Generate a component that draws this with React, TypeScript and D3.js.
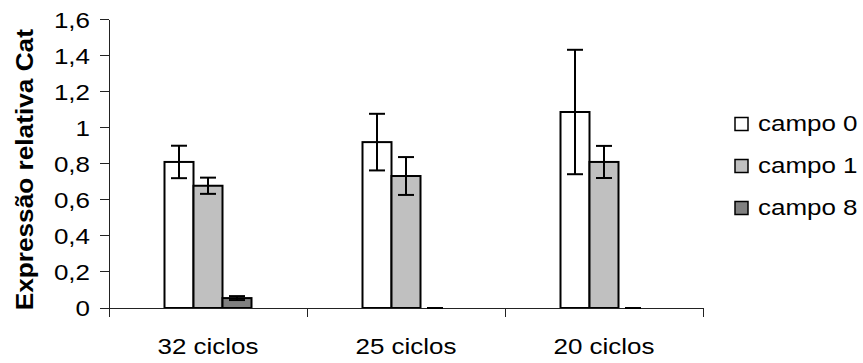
import React from "react";
import * as d3 from "d3";

// Relative Cat expression per cycle count and field
const categories = ["32 ciclos", "25 ciclos", "20 ciclos"];
const seriesNames = ["campo 0", "campo 1", "campo 8"];
const campo0 = [0.81, 0.92, 1.087];
const campo1 = [0.678, 0.732, 0.81];
const campo8 = [0.055, 0, 0];
const campo0Err = [0.09, 0.157, 0.345];
const campo1Err = [0.045, 0.105, 0.089];
const campo8Err = [0.011, 0, 0];
const yTicks = [0, 0.2, 0.4, 0.6, 0.8, 1, 1.2, 1.4, 1.6];
const yTitle = "Expressão relativa Cat";

const seriesValues = [campo0, campo1, campo8];
const seriesErrors = [campo0Err, campo1Err, campo8Err];
const seriesFill = ["#ffffff", "#c0c0c0", "#808080"];

const W = 863;
const H = 363;
const plot = { left: 109, right: 703, top: 19.5, bottom: 308 };
const FONT = "'Liberation Sans', Arial, Helvetica, sans-serif";
// text is set in a wide face: glyphs run 18% wider than Arial's
const SX = 1.18;

const locale = d3.formatLocale({
  decimal: ",",
  thousands: ".",
  grouping: [3],
  currency: ["", ""],
});
const fmt = locale.format(".1~f");

function WideText(props: {
  x: number;
  y: number;
  anchor?: "start" | "middle" | "end";
  size?: number;
  sx?: number;
  rotate?: number;
  bold?: boolean;
  children: React.ReactNode;
}) {
  const { x, y, anchor = "start", size = 22, sx = SX, rotate = 0, bold } = props;
  return (
    <text
      transform={`translate(${x},${y}) rotate(${rotate}) scale(${sx},1)`}
      textAnchor={anchor}
      fontSize={size}
      fontWeight={bold ? "bold" : "normal"}
      fill="#000"
    >
      {props.children}
    </text>
  );
}

export default function App() {
  const x = d3
    .scaleBand<string>()
    .domain(categories)
    .range([plot.left, plot.right])
    .padding(0);
  const inner = d3
    .scaleBand<string>()
    .domain(seriesNames)
    .range([-43.5, 43.5])
    .padding(0);
  const y = d3.scaleLinear().domain([0, 1.6]).range([plot.bottom, plot.top]);

  const bw = inner.bandwidth();
  const capHalf = 8;
  const catBounds = [...categories.map((c) => x(c)!), plot.right];

  return (
    <svg
      width={W}
      height={H}
      style={{ position: "absolute", left: 0, top: 0, background: "#fff" }}
      fontFamily={FONT}
    >
      {/* bars */}
      {categories.map((c, ci) => {
        const cx = x(c)! + x.bandwidth() / 2;
        return (
          <g key={c}>
            {seriesNames.map((s, si) => {
              const v = seriesValues[si][ci];
              const x0 = cx + inner(s)!;
              return (
                <rect
                  key={s}
                  x={x0}
                  y={y(v)}
                  width={bw}
                  height={y(0) - y(v)}
                  fill={seriesFill[si]}
                  stroke="#000"
                  strokeWidth={2}
                />
              );
            })}
          </g>
        );
      })}

      {/* axes */}
      <g stroke="#222" strokeWidth={1} shapeRendering="crispEdges">
        <line x1={plot.left} x2={plot.left} y1={plot.top} y2={plot.bottom} />
        {yTicks.map((t) => (
          <line key={t} x1={plot.left - 9} x2={plot.left} y1={y(t)} y2={y(t)} />
        ))}
        <line x1={plot.left} x2={plot.right} y1={plot.bottom} y2={plot.bottom} />
        {catBounds.map((b, i) => (
          <line key={i} x1={b} x2={b} y1={plot.bottom} y2={plot.bottom + 9} />
        ))}
      </g>

      {/* error bars */}
      {categories.map((c, ci) => {
        const cx = x(c)! + x.bandwidth() / 2;
        return (
          <g key={c} stroke="#000" strokeWidth={2}>
            {seriesNames.map((s, si) => {
              const v = seriesValues[si][ci];
              const e = seriesErrors[si][ci];
              const ex = cx + inner(s)! + bw / 2;
              return (
                <g key={s}>
                  <line x1={ex} x2={ex} y1={y(v + e)} y2={y(v - e)} />
                  <line x1={ex - capHalf} x2={ex + capHalf} y1={y(v + e)} y2={y(v + e)} />
                  <line x1={ex - capHalf} x2={ex + capHalf} y1={y(v - e)} y2={y(v - e)} />
                </g>
              );
            })}
          </g>
        );
      })}

      {/* y tick labels */}
      {yTicks.map((t) => (
        <WideText key={t} x={plot.left - 19} y={y(t) + 8} anchor="end">
          {fmt(t)}
        </WideText>
      ))}

      {/* category labels */}
      {categories.map((c) => (
        <WideText key={c} x={x(c)! + x.bandwidth() / 2} y={354} anchor="middle">
          {c}
        </WideText>
      ))}

      {/* y axis title */}
      <WideText
        x={33}
        y={(plot.top + plot.bottom) / 2 + 6}
        anchor="middle"
        rotate={-90}
        size={23}
        sx={1.14}
        bold
      >
        {yTitle}
      </WideText>

      {/* legend */}
      {seriesNames.map((s, si) => (
        <g key={s} transform={`translate(735,${117.5 + si * 42})`}>
          <rect x={0} y={0} width={13} height={13} fill={seriesFill[si]} stroke="#000" strokeWidth={1.5} />
          <WideText x={23} y={13}>
            {s}
          </WideText>
        </g>
      ))}
    </svg>
  );
}
